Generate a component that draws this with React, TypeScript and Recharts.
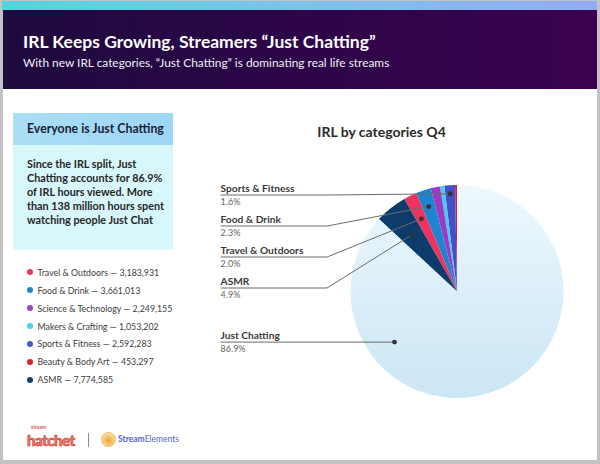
import React from "react";
import { Cell, Pie, PieChart } from "recharts";

// slice order runs counter-clockwise from 12 o'clock
const categories = [
  "Beauty & Body Art",
  "Sports & Fitness",
  "Makers & Crafting",
  "Science & Technology",
  "Food & Drink",
  "Travel & Outdoors",
  "ASMR",
  "Just Chatting",
];
const hoursViewed = [453297, 2592283, 1053202, 2249155, 3661013, 3183931, 7774585, 139090000];
const sliceColors = ["#d91f2c", "#4650c6", "#45cbf5", "#9a3dc3", "#1e84cf", "#ef325f", "#0c3b6c", "url(#jcFill)"];

const legendOrder = [
  "Travel & Outdoors",
  "Food & Drink",
  "Science & Technology",
  "Makers & Crafting",
  "Sports & Fitness",
  "Beauty & Body Art",
  "ASMR",
];
const legendColors: Record<string, string> = {
  "Travel & Outdoors": "#e8365f",
  "Food & Drink": "#2285c8",
  "Science & Technology": "#9a44c0",
  "Makers & Crafting": "#52cdef",
  "Sports & Fitness": "#4b52c4",
  "Beauty & Body Art": "#de1f2a",
  ASMR: "#123f70",
};

// labels stacked down the left side of the pie
const labelRows = ["Sports & Fitness", "Food & Drink", "Travel & Outdoors", "ASMR"];
const mainCategory = "Just Chatting";

const pieData = categories.map((name, i) => ({ name, value: hoursViewed[i] }));

const fmt = (n: number) => n.toLocaleString("en-US");

const RAD = Math.PI / 180;

function SliceLabel(props: any) {
  const { cx, cy, midAngle, outerRadius, percent, index } = props;
  const name = categories[index];
  const row = labelRows.indexOf(name);
  if (row < 0 && name !== mainCategory) return null;
  const textX = cx - outerRadius * 2.22;
  let dotX: number, dotY: number, lineY: number;
  let points: string;
  if (name === mainCategory) {
    const a = 219;
    const r = outerRadius * 0.755;
    dotX = cx + r * Math.cos(-a * RAD);
    dotY = cy + r * Math.sin(-a * RAD);
    lineY = dotY;
    points = `${dotX},${dotY} ${textX},${lineY}`;
  } else {
    const r = outerRadius * (0.92 - 0.08 * row);
    dotX = cx + r * Math.cos(-midAngle * RAD);
    dotY = cy + r * Math.sin(-midAngle * RAD);
    lineY = cy - outerRadius * 0.906 + row * 31;
    const elbowX = Math.min(dotX, cx - 130);
    points = `${dotX},${dotY} ${elbowX},${lineY} ${textX},${lineY}`;
  }
  return (
    <g>
      <polyline points={points} fill="none" stroke="#6b6b6b" strokeWidth={1} />
      <circle cx={dotX} cy={dotY} r={2.4} fill="#333" />
      <text x={textX} y={lineY - 3} fontSize={10.2} fontWeight={700} fill="#3a3a3a" fontFamily="Lato, sans-serif">
        {name}
      </text>
      <text x={textX} y={lineY + 10} fontSize={9} fill="#666" fontFamily="Lato, sans-serif">
        {(percent * 100).toFixed(1)}%
      </text>
    </g>
  );
}

export default function App() {
  return (
    <div
      style={{
        position: "absolute",
        left: 0,
        top: 0,
        width: 600,
        height: 464,
        background: "#c3c3c3",
        fontFamily: "Lato, sans-serif",
        overflow: "hidden",
      }}
    >
      <div style={{ position: "absolute", left: 3, top: 3, width: 594, height: 457, background: "#fff" }} />
      <div
        style={{
          position: "absolute",
          left: 2,
          top: 1,
          width: 595,
          height: 9,
          background: "linear-gradient(90deg, #52d6dc 0%, #7cc3ea 50%, #93abf4 100%)",
        }}
      />
      <div
        style={{
          position: "absolute",
          left: 3,
          top: 10,
          width: 594,
          height: 79,
          background: "linear-gradient(90deg, #1e0a3e 0%, #2d0548 50%, #3b0150 100%)",
        }}
      />
      <div
        style={{
          position: "absolute",
          left: 23,
          top: 32.5,
          color: "#fff",
          fontSize: 17.5,
          fontWeight: 700,
          lineHeight: 1,
          whiteSpace: "nowrap",
        }}
      >
        IRL Keeps Growing, Streamers “Just Chatting”
      </div>
      <div
        style={{
          position: "absolute",
          left: 23,
          top: 57,
          color: "#f2eef6",
          fontSize: 11.9,
          lineHeight: 1,
          whiteSpace: "nowrap",
        }}
      >
        With new IRL categories, “Just Chatting” is dominating real life streams
      </div>

      {/* side box */}
      <div
        style={{
          position: "absolute",
          left: 13,
          top: 113,
          width: 160,
          height: 32,
          background: "linear-gradient(90deg, #aadef5, #9dd7f5)",
        }}
      />
      <div
        style={{
          position: "absolute",
          left: 27,
          top: 123.3,
          fontSize: 12.3,
          fontWeight: 700,
          color: "#1d1d38",
          lineHeight: 1,
          whiteSpace: "nowrap",
        }}
      >
        Everyone is Just Chatting
      </div>
      <div style={{ position: "absolute", left: 13, top: 145, width: 160, height: 105, background: "#d8f7fb" }} />
      <div
        style={{
          position: "absolute",
          left: 27,
          top: 156.5,
          fontSize: 10.8,
          fontWeight: 700,
          color: "#262626",
          lineHeight: "14.1px",
          whiteSpace: "nowrap",
        }}
      >
        Since the IRL split, Just
        <br />
        Chatting accounts for 86.9%
        <br />
        of IRL hours viewed. More
        <br />
        than 138 million hours spent
        <br />
        watching people Just Chat
      </div>

      {legendOrder.map((name, i) => (
        <div
          key={name}
          style={{
            position: "absolute",
            left: 26.5,
            top: 263.3 + i * 17.9,
            height: 18,
            display: "flex",
            alignItems: "center",
            whiteSpace: "nowrap",
            fontSize: 8.8,
            color: "#3c3c3c",
          }}
        >
          <span
            style={{
              display: "inline-block",
              width: 6,
              height: 6,
              borderRadius: 3,
              background: legendColors[name],
              marginRight: 5,
            }}
          />
          {name} — {fmt(hoursViewed[categories.indexOf(name)])}
        </div>
      ))}

      {/* chart */}
      <div
        style={{
          position: "absolute",
          left: 310,
          top: 125,
          width: 143,
          textAlign: "center",
          fontSize: 14,
          fontWeight: 700,
          color: "#2a2a2a",
          lineHeight: 1,
          whiteSpace: "nowrap",
        }}
      >
        IRL by categories Q4
      </div>
      <div style={{ position: "absolute", left: 180, top: 89 }}>
        <PieChart width={417} height={371} margin={{ top: 0, right: 0, bottom: 0, left: 0 }}>
          <defs>
            <linearGradient id="jcFill" x1="0" y1="0" x2="0" y2="1">
              <stop offset="0%" stopColor="#eef8fd" />
              <stop offset="100%" stopColor="#cbe6f5" />
            </linearGradient>
          </defs>
          <Pie
            data={pieData}
            dataKey="value"
            nameKey="name"
            cx={277}
            cy={202.5}
            outerRadius={106.5}
            startAngle={90}
            endAngle={450}
            stroke="none"
            label={SliceLabel}
            labelLine={false}
            isAnimationActive={false}
          >
            {pieData.map((d, i) => (
              <Cell key={d.name} fill={sliceColors[i]} />
            ))}
          </Pie>
        </PieChart>
      </div>

      {/* footer logos */}
      <div
        style={{
          position: "absolute",
          left: 31,
          top: 425,
          fontSize: 5,
          fontWeight: 700,
          color: "#e0584c",
          lineHeight: 1,
        }}
      >
        stream
      </div>
      <div
        style={{
          position: "absolute",
          left: 27,
          top: 433,
          fontSize: 15,
          fontWeight: 900,
          color: "#f07a6a",
          lineHeight: 1,
          letterSpacing: -0.5,
          WebkitTextStroke: "0.6px #c8362c",
          whiteSpace: "nowrap",
        }}
      >
        hatchet
      </div>
      <div style={{ position: "absolute", left: 88, top: 433, width: 1, height: 14, background: "#8a8a8a" }} />
      <div
        style={{
          position: "absolute",
          left: 101,
          top: 432,
          width: 13,
          height: 13,
          borderRadius: 8,
          border: "1px solid #e6b95e",
          background: "radial-gradient(circle at 50% 60%, #f3a33a 0%, #f8d48a 60%, #fff3d8 100%)",
        }}
      />
      <div
        style={{
          position: "absolute",
          left: 118,
          top: 435,
          fontSize: 8.5,
          color: "#5563c8",
          lineHeight: 1,
          whiteSpace: "nowrap",
        }}
      >
        <span style={{ fontWeight: 700 }}>Stream</span>Elements
      </div>
    </div>
  );
}
